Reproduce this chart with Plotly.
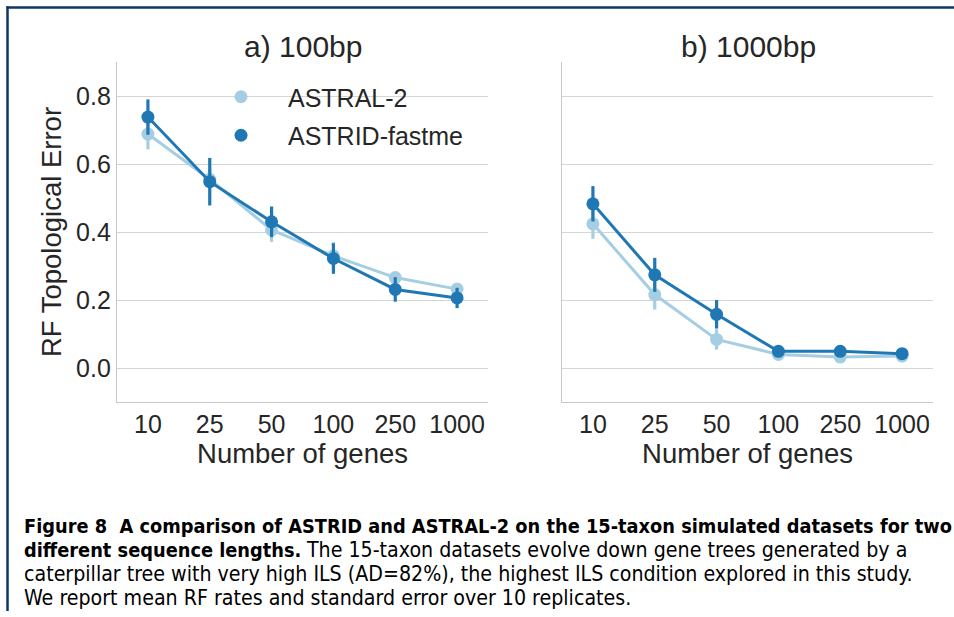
import plotly.graph_objects as go

# ---- data ----
genes = ["10", "25", "50", "100", "250", "1000"]

astral_100 = [0.688, 0.555, 0.406, 0.330, 0.266, 0.232]
astral_100_err = [0.045, 0.030, 0.035, 0.040, 0.012, 0.012]
astrid_100 = [0.738, 0.548, 0.430, 0.322, 0.231, 0.206]
astrid_100_err = [0.052, 0.070, 0.045, 0.045, 0.036, 0.030]

astral_1000 = [0.424, 0.216, 0.084, 0.040, 0.032, 0.035]
astral_1000_err = [0.044, 0.044, 0.030, 0.008, 0.008, 0.008]
astrid_1000 = [0.483, 0.274, 0.158, 0.049, 0.049, 0.042]
astrid_1000_err = [0.052, 0.050, 0.042, 0.010, 0.010, 0.010]

series_names = ["ASTRAL-2", "ASTRID-fastme"]
panel_titles = ["a) 100bp", "b) 1000bp"]
y_ticks = [0.0, 0.2, 0.4, 0.6, 0.8]

CAP_B = 19.8
CAP_R = 21.2
caption_lines = [
    "<b>Figure 8  A comparison of ASTRID and ASTRAL-2 on the 15-taxon simulated datasets for two</b>",
    "<b>different sequence lengths.</b> "
    f"<span style='font-size:{CAP_R}px'>The 15-taxon datasets evolve down gene trees generated by a</span>",
    f"<span style='font-size:{CAP_R}px'>caterpillar tree with very high ILS (AD=82%), the highest ILS condition explored in this study.</span>",
    f"<span style='font-size:{CAP_R}px'>We report mean RF rates and standard error over 10 replicates.</span>",
]

# ---- style ----
LIGHT = "#a6cee3"
DARK = "#1f78b4"
TXT = "#262626"
GRID = "#d5d5d5"
FONT = "Liberation Sans, Arial, sans-serif"
W, H = 954, 617

fig = go.Figure()

def add_series(x, y, err, color, xa, ya):
    fig.add_trace(go.Scatter(
        x=x, y=y, mode="lines+markers", xaxis=xa, yaxis=ya,
        line=dict(color=color, width=3),
        marker=dict(color=color, size=13),
        error_y=dict(type="data", array=err, visible=True, color=color,
                     thickness=3.2, width=0),
        showlegend=False, hoverinfo="skip"))

add_series(genes, astral_100, astral_100_err, LIGHT, "x", "y")
add_series(genes, astrid_100, astrid_100_err, DARK, "x", "y")
add_series(genes, astral_1000, astral_1000_err, LIGHT, "x2", "y2")
add_series(genes, astrid_1000, astrid_1000_err, DARK, "x2", "y2")

# legend-only marker entries
for name, color, grp in [(series_names[0], LIGHT, "g1"), (series_names[1], DARK, "g2")]:
    fig.add_trace(go.Scatter(x=[None], y=[None], mode="markers", name=name,
                             legendgroup=grp,
                             marker=dict(color=color, size=13), xaxis="x", yaxis="y"))

def px_x(p):
    return p / W

def px_y(p):
    return 1 - p / H

ydom = [px_y(402), px_y(62)]
axis_common = dict(
    showline=True, linecolor="#c8c8c8", linewidth=1.3,
    ticks="", tickfont=dict(family=FONT, size=25, color=TXT),
    zeroline=False,
)

fig.update_layout(
    width=W, height=H,
    margin=dict(l=0, r=0, t=0, b=0),
    paper_bgcolor="white", plot_bgcolor="white",
    font=dict(family=FONT, color=TXT),
    xaxis=dict(domain=[px_x(117), px_x(488)], anchor="y", type="category",
               range=[-0.5, 5.5], showgrid=False,
               title=dict(text="Number of genes", font=dict(size=27.5, color=TXT), standoff=0),
               **axis_common),
    yaxis=dict(domain=ydom, anchor="x", range=[-0.1, 0.9], tickvals=y_ticks,
               tickformat=".1f", showgrid=True, gridcolor=GRID, gridwidth=1.3,
               title=dict(text="RF Topological Error", font=dict(size=27.5, color=TXT), standoff=6),
               **axis_common),
    xaxis2=dict(domain=[px_x(562), px_x(933)], anchor="y2", type="category",
                range=[-0.5, 5.5], showgrid=False,
                title=dict(text="Number of genes", font=dict(size=27.5, color=TXT), standoff=0),
                **axis_common),
    yaxis2=dict(domain=ydom, anchor="x2", range=[-0.1, 0.9], tickvals=y_ticks,
                showticklabels=False, showgrid=True, gridcolor=GRID, gridwidth=1.3,
                **axis_common),
    legend=dict(x=px_x(194), y=px_y(74), xanchor="left", yanchor="top",
                bgcolor="rgba(0,0,0,0)", font=dict(family=FONT, size=25, color=TXT),
                tracegroupgap=3, itemwidth=84),
    showlegend=True,
)

# panel titles
for i, t in enumerate(panel_titles):
    xc = [px_x(303), px_x(748)][i]
    fig.add_annotation(text=t, x=xc, y=px_y(47), xref="paper", yref="paper",
                       xanchor="center", yanchor="middle", showarrow=False,
                       font=dict(family=FONT, size=30, color=TXT))

# caption
CAP_FONT = "DejaVu Sans Condensed, Liberation Sans Narrow, sans-serif"
for i, line in enumerate(caption_lines):
    fig.add_annotation(text=line, x=px_x(22), y=px_y(526 + i * 23.7), xref="paper", yref="paper",
                       xanchor="left", yanchor="middle", showarrow=False, align="left",
                       font=dict(family=CAP_FONT, size=CAP_B, color="black"))

# border lines
BORDER = "#0c3766"
fig.add_shape(type="line", xref="paper", yref="paper", x0=px_x(6.3), x1=1.0,
              y0=px_y(7.5), y1=px_y(7.5), line=dict(color=BORDER, width=2.5))
fig.add_shape(type="line", xref="paper", yref="paper", x0=px_x(7.5), x1=px_x(7.5),
              y0=px_y(6.3), y1=px_y(611), line=dict(color=BORDER, width=2.5))

fig.write_html("out.html", config={"displayModeBar": False},
               post_script="document.body.style.margin='0';document.body.style.overflow='hidden';")
